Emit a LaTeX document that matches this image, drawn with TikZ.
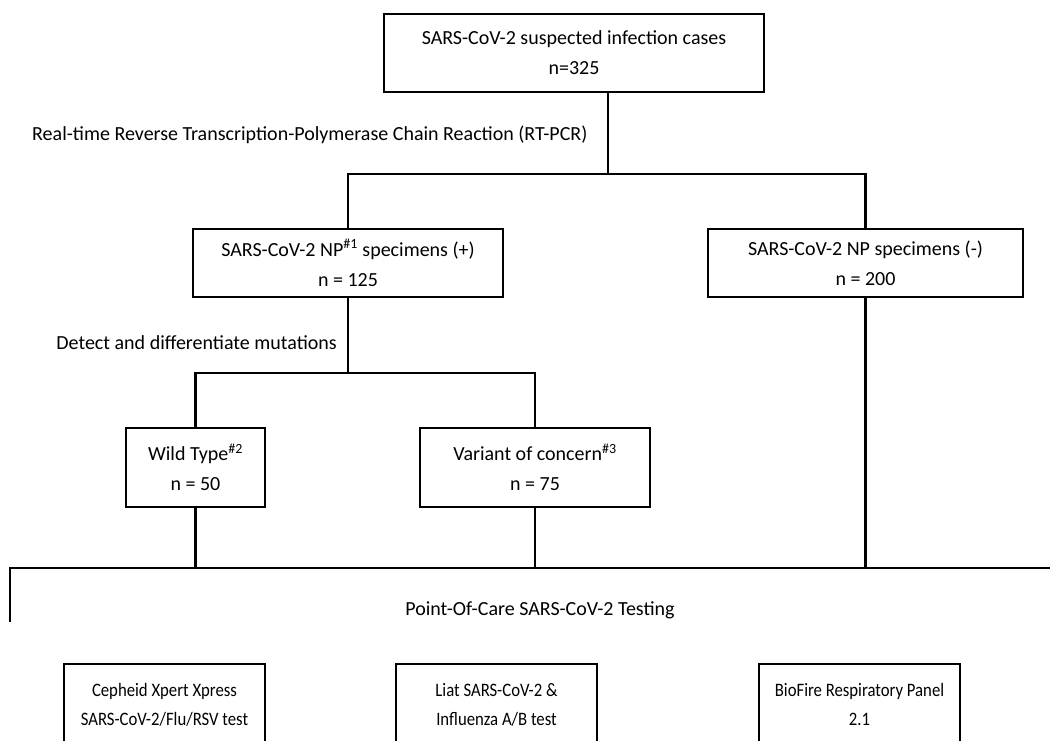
\documentclass[tikz,border=0pt]{standalone}
\usepackage{fontspec}
\setmainfont{Carlito}
\newfontfamily\narrowfont{Carlito}[FakeStretch=0.88]
\begin{document}
\begin{tikzpicture}[x=1pt,y=-1pt,
  box/.style={draw,line width=2.6pt,inner sep=0pt,align=center,font=\fontsize{20}{30}\selectfont},
  conn/.style={line width=2.6pt},
  thinconn/.style={line width=1.8pt},
  lbl/.style={inner sep=0pt,font=\fontsize{20}{24}\selectfont},
  pocbox/.style={draw,line width=2.3pt,inner sep=0pt,align=center,font=\narrowfont\fontsize{19}{29}\selectfont,minimum width=201pt,minimum height=81pt}]
\useasboundingbox (0,0) rectangle (1050,740);
\clip (0,0) rectangle (1050,740);
\fill[white] (0,0) rectangle (1050,740);
\node[box,minimum width=380pt,minimum height=78pt] (top) at (574,53) {SARS-CoV-2 suspected infection cases\\n=325};
\node[box,minimum width=310pt,minimum height=68pt] (pos) at (348,263) {SARS-CoV-2 NP\textsuperscript{\#1} specimens (+)\\n = 125};
\node[box,minimum width=315pt,minimum height=68pt] (neg) at (865.5,263) {SARS-CoV-2 NP specimens (-)\\n = 200};
\node[box,minimum width=139pt,minimum height=79pt] (wild) at (195.5,467.5) {Wild Type\textsuperscript{\#2}\\n = 50};
\node[box,minimum width=230pt,minimum height=79pt] (voc) at (535,467.5) {Variant of concern\textsuperscript{\#3}\\n = 75};
\node[lbl,anchor=west] (rt) at (32,135) {Real-time Reverse Transcription-Polymerase Chain Reaction (RT-PCR)};
\node[lbl,anchor=east] (det) at (337,343) {Detect and differentiate mutations};
\node[lbl] (poc) at (540,610) {Point-Of-Care SARS-CoV-2 Testing};
\node[pocbox] (cep) at (164.5,704.5) {Cepheid Xpert Xpress\\SARS-CoV-2/Flu/RSV test};
\node[pocbox] (liat) at (496.5,704.5) {Liat SARS-CoV-2 \&\\Influenza A/B test};
\node[pocbox] (bio) at (859.5,704.5) {BioFire Respiratory Panel\\2.1};
\coordinate (j1) at (608,174);
\coordinate (j2) at (348,373);
\coordinate (j3) at (10,568);
\coordinate (jm) at (584,568);
\coordinate (j3e) at (1050,568);
\coordinate (lv) at (10,622);
\draw[conn] (top.south -| j1) -- (j1);
\draw[conn] (pos.north) -- (pos.north |- j1) -- (neg.north |- j1) -- (neg.north);
\draw[conn] (pos.south) -- (j2);
\draw[conn] (wild.north) -- (wild.north |- j2) -- (voc.north |- j2) -- (voc.north);
\draw[conn] (wild.south) -- (wild.south |- j3);
\draw[conn] (voc.south) -- (voc.south |- j3);
\draw[conn] (neg.south) -- (neg.south |- j3);
\draw[conn] (lv) -- (j3) -- (jm);
\draw[thinconn] (jm) -- (j3e);
\end{tikzpicture}
\end{document}
